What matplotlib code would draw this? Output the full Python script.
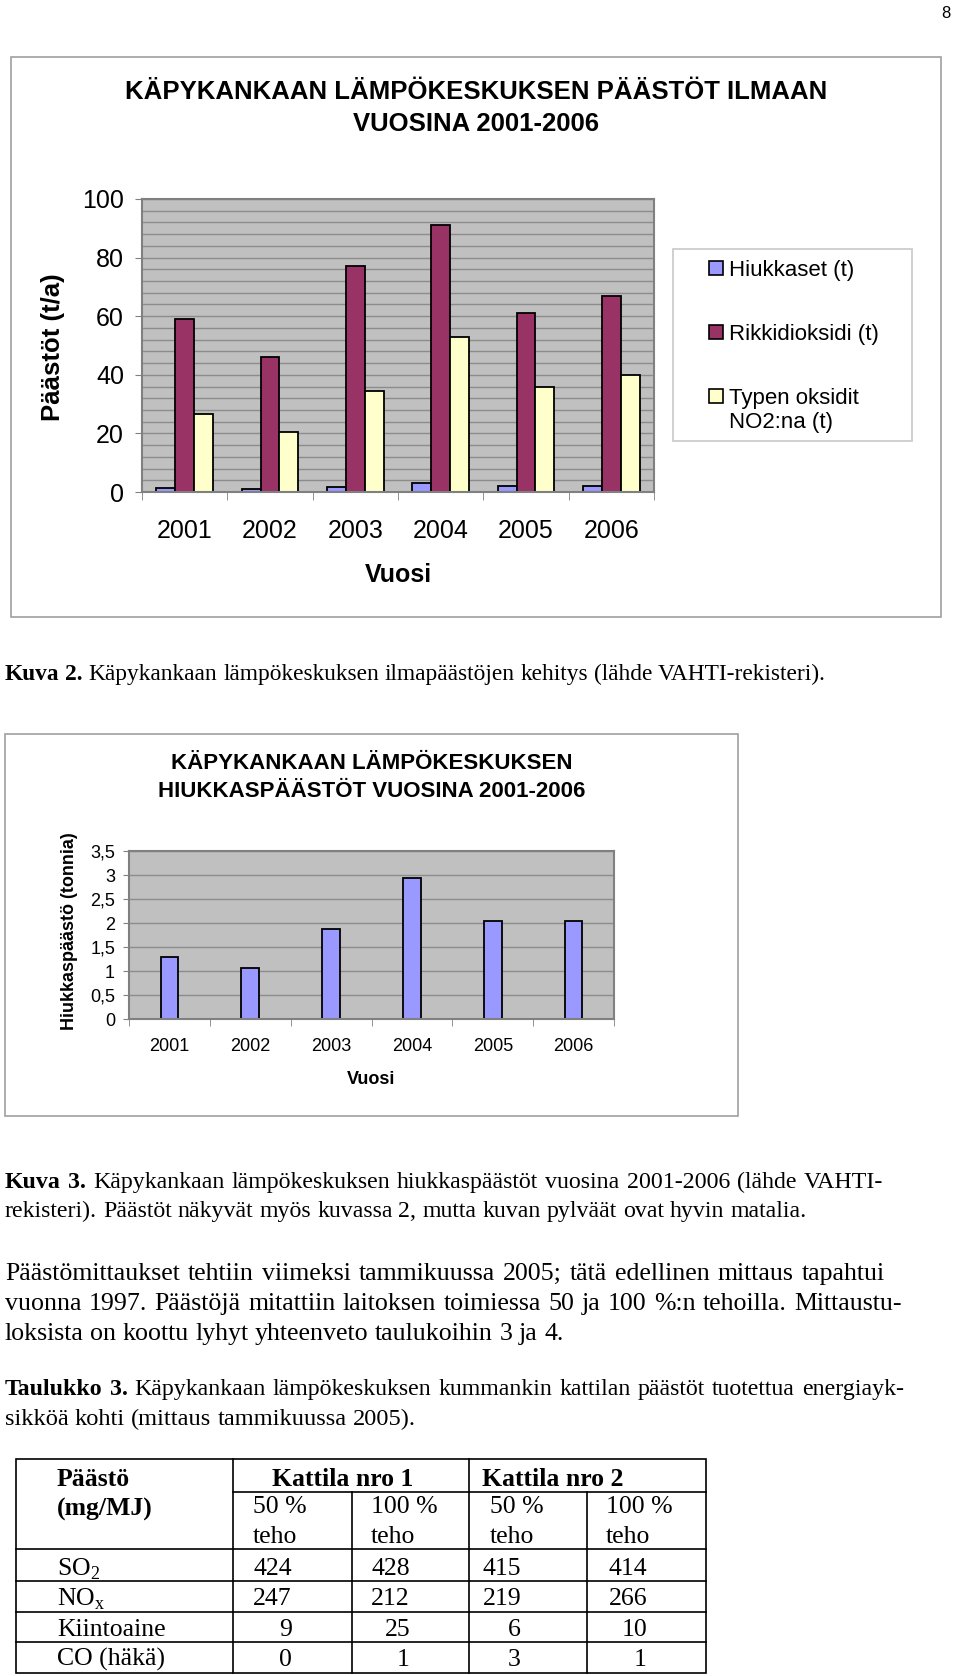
import numpy as np
import matplotlib.pyplot as plt
from matplotlib.patches import Rectangle

plt.rcParams['font.family'] = 'Liberation Sans'

# data
years = ['2001', '2002', '2003', '2004', '2005', '2006']
hiukkaset = [1.3, 1.07, 1.87, 2.93, 2.05, 2.05]
rikkidioksidi = [59, 46, 77, 91, 61, 67]
typen_oksidit = [26.5, 20.5, 34.6, 52.8, 35.7, 40]
series_names = ['Hiukkaset (t)', 'Rikkidioksidi (t)', 'Typen oksidit\nNO2:na (t)']

ticks1 = [0, 20, 40, 60, 80, 100]
ticks2 = [0, 0.5, 1, 1.5, 2, 2.5, 3, 3.5]
ticklabels2 = ['0', '0,5', '1', '1,5', '2', '2,5', '3', '3,5']

table_rows = ['SO$_{\\mathregular{2}}$', 'NO$_{\\mathregular{x}}$', 'Kiintoaine', 'CO (häkä)']
k1_50 = [424, 247, 9, 0]
k1_100 = [428, 212, 25, 1]
k2_50 = [415, 219, 6, 3]
k2_100 = [414, 266, 10, 1]

colors = ['#9999FF', '#993366', '#FFFFCC']
plot_bg = '#C0C0C0'
grid_c = '#8C8C8C'
frame_c = '#808080'

W, H = 960, 1676
fig = plt.figure(figsize=(W / 100, H / 100), dpi=100)

# background axes in page pixels (y down)
bg = fig.add_axes([0, 0, 1, 1], zorder=0)
bg.set_xlim(0, W)
bg.set_ylim(H, 0)
bg.axis('off')


def ax_rect(left, top, right, bottom):
    return [left / W, 1 - bottom / H, (right - left) / W, (bottom - top) / H]


# ---------------- chart 1 ----------------
bg.add_patch(Rectangle((11, 57), 930, 560, fill=False, ec='#A0A0A0', lw=1.2))
bg.text(476, 92, 'KÄPYKANKAAN LÄMPÖKESKUKSEN PÄÄSTÖT ILMAAN', ha='center', va='center',
        fontsize=18.5, fontweight='bold')
bg.text(476, 124, 'VUOSINA 2001-2006', ha='center', va='center', fontsize=18.5, fontweight='bold')

ax1 = fig.add_axes(ax_rect(142, 199, 654, 492), zorder=2)
x = np.arange(len(years))
w = 0.222
for vals, off, c in zip([hiukkaset, rikkidioksidi, typen_oksidit], [-w, 0, w], colors):
    ax1.bar(x + off, vals, w, color=c, edgecolor='black', lw=1.3)
ax1.set_facecolor(plot_bg)
ax1.set_xlim(-0.5, 5.5)
ax1.set_ylim(0, 100)
ax1.set_yticks(ticks1)
ax1.set_yticks(np.arange(0, 101, 4), minor=True)
ax1.yaxis.grid(True, which='both', color=grid_c, lw=1)
ax1.set_axisbelow(True)
ax1.set_xticks(x)
ax1.set_xticklabels(years)
ax1.set_xticks(np.arange(-0.5, 6, 1), minor=True)
ax1.tick_params(axis='x', which='major', length=0, pad=19.5, labelsize=18)
ax1.tick_params(axis='x', which='minor', length=6, color=frame_c)
ax1.tick_params(axis='y', which='major', length=5, color=frame_c, pad=8, labelsize=18)
ax1.tick_params(axis='y', which='minor', length=0)
for s in ax1.spines.values():
    s.set_color(frame_c)
    s.set_linewidth(1.5)
ax1.set_ylabel('Päästöt (t/a)', fontsize=18.5, fontweight='bold', va='center')
ax1.yaxis.set_label_coords((53 - 142) / 512, 0.495)
ax1.set_xlabel('Vuosi', fontsize=18, fontweight='bold', va='center')
ax1.xaxis.set_label_coords(0.5, (492 - 575) / 293)

# legend box
bg.add_patch(Rectangle((673, 249), 239, 192, fill=False, ec='#C8C8C8', lw=1.2))
for name, c, yy in zip(series_names, colors, [268, 332, 396]):
    bg.add_patch(Rectangle((709, yy - 7), 14, 14, fc=c, ec='black', lw=1.2))
    bg.text(729, yy - 8, name, ha='left', va='top', fontsize=16, linespacing=1.2)

# ---------------- chart 2 ----------------
bg.add_patch(Rectangle((5, 734), 733, 382, fill=False, ec='#A0A0A0', lw=1.2))
bg.text(372, 763, 'KÄPYKANKAAN LÄMPÖKESKUKSEN', ha='center', va='center', fontsize=16, fontweight='bold')
bg.text(372, 791, 'HIUKKASPÄÄSTÖT VUOSINA 2001-2006', ha='center', va='center', fontsize=16,
        fontweight='bold')

ax2 = fig.add_axes(ax_rect(129, 851, 614, 1019), zorder=2)
ax2.bar(x, hiukkaset, 0.22, color=colors[0], edgecolor='black', lw=1.3)
ax2.set_facecolor(plot_bg)
ax2.set_xlim(-0.5, 5.5)
ax2.set_ylim(0, 3.5)
ax2.set_yticks(ticks2)
ax2.set_yticklabels(ticklabels2)
ax2.yaxis.grid(True, color=grid_c, lw=1)
ax2.set_axisbelow(True)
ax2.set_xticks(x)
ax2.set_xticklabels(years)
ax2.set_xticks(np.arange(-0.5, 6, 1), minor=True)
ax2.tick_params(axis='x', which='major', length=0, pad=14, labelsize=13)
ax2.tick_params(axis='x', which='minor', length=5, color=frame_c)
ax2.tick_params(axis='y', which='major', length=4, color=frame_c, pad=6, labelsize=13)
for s in ax2.spines.values():
    s.set_color(frame_c)
    s.set_linewidth(1.5)
ax2.set_ylabel('Hiukkaspäästö (tonnia)', fontsize=13, fontweight='bold', va='center')
ax2.yaxis.set_label_coords((69 - 129) / 485, 0.524)
ax2.set_xlabel('Vuosi', fontsize=13, fontweight='bold', va='center')
ax2.xaxis.set_label_coords(0.5, (1019 - 1079) / 168)

# ---------------- page text ----------------
serif = 'Liberation Serif'
body = 18.6      # paragraph text
cap = 17.2       # figure / table captions
renderer = fig.canvas.get_renderer()


def text_line(x0, y, parts, size=body, right=None):
    words = []
    for s, wt in parts:
        for wd in s.split():
            words.append((wd, wt))
    arts = [bg.text(0, y, wd, fontsize=size, fontweight=wt, family=serif, va='baseline')
            for wd, wt in words]
    widths = [a.get_window_extent(renderer).width for a in arts]
    gap = 0.25 * size * 100 / 72
    if right is not None and len(words) > 1:
        gap = max(gap, (right - x0 - sum(widths)) / (len(words) - 1))
    cx = x0
    for a, wdt in zip(arts, widths):
        a.set_x(cx)
        cx += wdt + gap


bg.text(950, 13, '8', ha='right', va='center', fontsize=12)

text_line(5, 680, [('Kuva 2.', 'bold'),
                   ('Käpykankaan lämpökeskuksen ilmapäästöjen kehitys (lähde VAHTI-rekisteri).', 'normal')],
          size=16.8)
text_line(5, 1188, [('Kuva 3.', 'bold'),
                    ('Käpykankaan lämpökeskuksen hiukkaspäästöt vuosina 2001-2006 (lähde VAHTI-', 'normal')],
          size=cap, right=883)
text_line(5, 1217, [('rekisteri). Päästöt näkyvät myös kuvassa 2, mutta kuvan pylväät ovat hyvin matalia.',
                     'normal')], size=cap)
text_line(5, 1280, [('Päästömittaukset tehtiin viimeksi tammikuussa 2005; tätä edellinen mittaus tapahtui',
                     'normal')], right=885)
text_line(5, 1310, [('vuonna 1997. Päästöjä mitattiin laitoksen toimiessa 50 ja 100 %:n tehoilla. Mittaustu-',
                     'normal')], right=902)
text_line(5, 1340, [('loksista on koottu lyhyt yhteenveto taulukoihin 3 ja 4.', 'normal')])
text_line(5, 1395, [('Taulukko 3.', 'bold'),
                    ('Käpykankaan lämpökeskuksen kummankin kattilan päästöt tuotettua energiayk-', 'normal')],
          size=cap, right=904)
text_line(5, 1425, [('sikköä kohti (mittaus tammikuussa 2005).', 'normal')], size=17.6)

# ---------------- table ----------------
tl, tr, tt, tb = 16, 706, 1459, 1673
lw_t = 1.2
bg.add_patch(Rectangle((tl, tt), tr - tl, tb - tt, fill=False, ec='black', lw=lw_t))
bg.plot([233, tr], [1492, 1492], color='black', lw=lw_t)
for yy in [1549, 1581, 1612, 1642]:
    bg.plot([tl, tr], [yy, yy], color='black', lw=lw_t)
for xx in [233, 469]:
    bg.plot([xx, xx], [tt, tb], color='black', lw=lw_t)
for xx in [352, 587]:
    bg.plot([xx, xx], [1492, tb], color='black', lw=lw_t)

tsize = 18.5
bg.text(57, 1486, 'Päästö', family=serif, fontsize=tsize, fontweight='bold', va='baseline')
bg.text(57, 1516, '(mg/MJ)', family=serif, fontsize=tsize, fontweight='bold', va='baseline')
bg.text(272, 1486, 'Kattila nro 1', family=serif, fontsize=tsize, fontweight='bold', va='baseline')
bg.text(482, 1486, 'Kattila nro 2', family=serif, fontsize=tsize, fontweight='bold', va='baseline')
for xx, lab in zip([253, 371, 490, 606], ['50 %', '100 %', '50 %', '100 %']):
    bg.text(xx, 1513, lab, family=serif, fontsize=tsize, va='baseline')
    bg.text(xx, 1543, 'teho', family=serif, fontsize=tsize, va='baseline')

row_base = [1575, 1605, 1636, 1666]
for i, name in enumerate(table_rows):
    bg.text(57, row_base[i], name, family=serif, fontsize=tsize, va='baseline')
    for xr, col in zip([292, 410, 521, 647], [k1_50, k1_100, k2_50, k2_100]):
        bg.text(xr, row_base[i], str(col[i]), family=serif, fontsize=tsize, va='baseline', ha='right')

fig.savefig('out.png', dpi=100)
